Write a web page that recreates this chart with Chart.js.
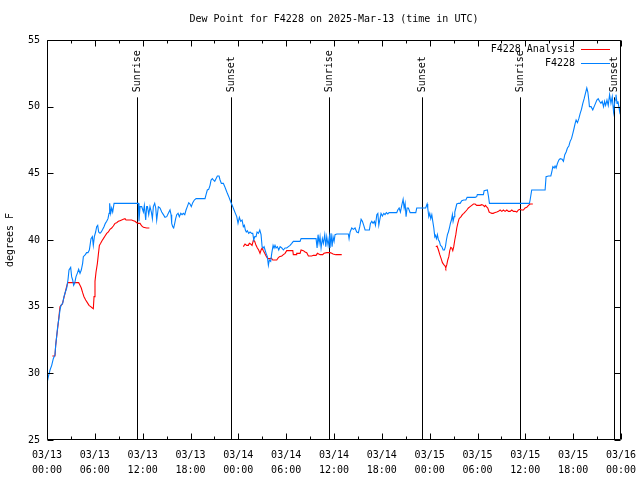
<!DOCTYPE html>
<html>
<head>
<meta charset="utf-8">
<title>Dew Point for F4228</title>
<script src="https://cdn.jsdelivr.net/npm/chart.js@4.4.1/dist/chart.umd.min.js"></script>
<style>
  html, body { margin: 0; padding: 0; background: #fff; }
  canvas { display: block; }
</style>
</head>
<body>
<canvas id="dewChart" width="640" height="480"></canvas>
<script>
// hours since 03/13 00:00 UTC
const xTickLabels = [
  ['03/13', '00:00'], ['03/13', '06:00'], ['03/13', '12:00'], ['03/13', '18:00'],
  ['03/14', '00:00'], ['03/14', '06:00'], ['03/14', '12:00'], ['03/14', '18:00'],
  ['03/15', '00:00'], ['03/15', '06:00'], ['03/15', '12:00'], ['03/15', '18:00'],
  ['03/16', '00:00']
];

// observed dew point (F4228)
const obsHours = [
  0.0, 0.17, 0.38, 0.59, 0.79, 1.0, 1.09, 1.21, 1.34, 1.5, 1.63, 1.76, 1.97, 2.13, 2.3, 2.47,
  2.63, 2.76, 2.97, 3.09, 3.22, 3.34, 3.47, 3.64, 3.8, 3.97, 4.14, 4.3, 4.47, 4.56, 4.81, 4.97,
  5.14, 5.31, 5.4, 5.52, 5.69, 5.81, 5.94, 6.1, 6.23, 6.36, 6.48, 6.65, 6.81, 6.99, 7.15, 7.32,
  7.49, 7.65, 7.78, 7.86, 7.99, 8.11, 8.24, 8.41, 11.33, 11.46, 11.54, 11.67, 11.88, 12.09, 12.21, 12.38,
  12.5, 12.6, 12.76, 12.92, 13.09, 13.22, 13.34, 13.51, 13.64, 13.76, 13.97, 14.18, 14.39, 14.6, 14.8, 15.02,
  15.22, 15.43, 15.56, 15.64, 15.77, 15.89, 16.02, 16.14, 16.27, 16.44, 16.6, 16.78, 16.94, 17.1, 17.28, 17.44,
  17.6, 17.78, 17.94, 18.1, 18.28, 18.48, 18.7, 19.82, 19.95, 20.11, 20.28, 20.45, 20.58, 20.74, 20.87, 21.04,
  21.2, 21.37, 21.58, 21.71, 21.87, 22.12, 22.3, 22.46, 22.62, 22.8, 22.96, 23.12, 23.3, 23.46, 23.63, 23.8,
  23.96, 24.13, 24.3, 24.47, 24.63, 24.76, 24.88, 25.0, 25.13, 25.3, 25.47, 25.68, 25.81, 25.94, 26.06, 26.22,
  26.35, 26.52, 26.69, 26.85, 26.98, 27.1, 27.23, 27.35, 27.48, 27.64, 27.77, 27.89, 28.06, 28.19, 28.36, 28.48,
  28.6, 28.73, 28.9, 29.07, 29.24, 29.45, 29.65, 29.86, 30.07, 30.28, 30.49, 30.7, 30.9, 31.74, 31.87, 33.75,
  33.88, 34.0, 34.13, 34.25, 34.38, 34.54, 34.67, 34.84, 34.97, 35.09, 35.26, 35.42, 35.5, 35.63, 35.76, 35.88,
  36.01, 36.13, 36.35, 37.8, 37.89, 38.02, 38.23, 38.43, 38.64, 38.85, 39.06, 39.23, 39.4, 39.56, 39.73, 39.9,
  40.44, 40.57, 40.74, 40.9, 41.07, 41.2, 41.37, 41.5, 41.62, 41.74, 41.9, 42.07, 42.25, 42.4, 42.57, 42.75,
  42.9, 43.87, 44.0, 44.17, 44.33, 44.5, 44.67, 44.8, 44.92, 45.04, 45.17, 45.33, 45.55, 46.26, 46.38, 47.5,
  47.68, 47.76, 47.89, 48.01, 48.14, 48.27, 48.39, 48.52, 48.64, 48.72, 48.85, 48.97, 49.1, 49.22, 49.35, 49.52,
  49.69, 49.85, 49.98, 50.1, 50.23, 50.35, 50.48, 50.6, 50.73, 50.85, 50.94, 51.07, 51.15, 51.28, 51.4, 51.61,
  51.82, 52.03, 52.28, 52.54, 52.7, 53.7, 53.9, 53.98, 54.74, 54.83, 55.24, 55.37, 55.5, 60.51, 60.6, 60.8,
  62.48, 62.6, 62.9, 63.2, 63.32, 63.45, 63.61, 63.73, 63.86, 64.03, 64.2, 64.37, 64.62, 64.78, 64.95, 65.12,
  65.28, 65.46, 65.62, 65.79, 65.96, 66.12, 66.25, 66.37, 66.54, 66.71, 66.88, 67.04, 67.21, 67.38, 67.54, 67.71,
  67.84, 67.96, 68.04, 68.25, 68.46, 68.63, 68.8, 68.97, 69.14, 69.3, 69.48, 69.64, 69.81, 69.94, 70.07, 70.24,
  70.4, 70.57, 70.74, 70.9, 71.07, 71.25, 71.37, 71.5, 71.62, 71.75, 71.87, 71.95
];
const obsDewpoint = [
  29.25, 29.75, 30.25, 30.6, 31.1, 31.4, 32.1, 32.75, 33.5, 34.15, 34.75, 35.1, 35.25, 35.75, 36.1, 36.4,
  37.0, 37.75, 37.95, 37.25, 37.0, 36.6, 36.75, 37.25, 37.5, 37.8, 37.5, 37.75, 38.25, 38.75, 38.9, 39.05,
  39.05, 39.25, 39.6, 40.1, 40.25, 39.6, 40.25, 40.6, 41.0, 41.1, 40.6, 40.5, 40.6, 40.8, 41.0, 41.25,
  41.4, 41.6, 42.0, 42.75, 42.0, 42.4, 42.1, 42.75, 42.75, 42.75, 41.4, 42.5, 42.5, 42.1, 42.6, 41.5,
  42.5, 42.5, 41.9, 42.5, 42.1, 41.6, 42.5, 42.75, 42.4, 41.5, 42.5, 42.4, 42.1, 41.9, 41.7, 41.75,
  42.0, 42.25, 41.9, 41.25, 41.0, 40.9, 41.25, 41.6, 41.9, 42.0, 41.75, 42.0, 41.9, 42.0, 41.9, 42.25,
  42.5, 42.8, 42.7, 42.5, 42.8, 43.0, 43.1, 43.1, 43.4, 43.75, 43.8, 44.1, 44.5, 44.6, 44.5, 44.4,
  44.6, 44.8, 44.8, 44.5, 44.25, 44.25, 44.0, 43.75, 43.5, 43.25, 43.0, 42.75, 42.5, 42.25, 42.0, 41.75,
  41.25, 41.7, 41.4, 41.5, 41.0, 41.1, 40.75, 40.6, 40.7, 40.5, 40.6, 40.5, 40.5, 40.0, 40.25, 40.25,
  40.6, 40.5, 40.75, 40.4, 39.5, 39.4, 39.5, 39.25, 39.0, 38.75, 38.1, 38.5, 38.4, 39.0, 39.6, 39.4,
  39.6, 39.4, 39.5, 39.25, 39.5, 39.4, 39.25, 39.4, 39.4, 39.5, 39.6, 39.75, 39.9, 39.9, 40.1, 40.1,
  39.4, 40.4, 39.75, 40.25, 39.4, 40.1, 39.75, 40.4, 39.5, 40.25, 39.6, 40.25, 39.4, 40.5, 39.5, 40.25,
  39.9, 40.4, 40.45, 40.45, 40.1, 40.6, 40.9, 40.8, 40.9, 40.6, 40.55, 41.0, 41.55, 41.4, 41.1, 40.75,
  40.75, 41.25, 41.4, 41.25, 41.4, 41.1, 41.9, 42.0, 41.1, 41.5, 42.0, 41.8, 42.0, 41.9, 42.05, 41.95,
  42.05, 42.05, 42.25, 42.4, 42.1, 42.6, 43.05, 42.4, 42.75, 41.75, 42.4, 42.4, 42.05, 42.05, 42.4, 42.4,
  42.7, 42.4, 41.75, 42.0, 41.6, 41.9, 41.4, 40.9, 40.25, 40.35, 40.1, 40.4, 40.0, 39.9, 39.6, 39.5,
  39.25, 39.25, 39.5, 40.0, 40.4, 40.6, 40.9, 41.25, 41.5, 41.9, 41.4, 41.75, 42.1, 42.4, 42.7, 42.75,
  42.75, 42.95, 43.0, 43.0, 43.2, 43.2, 43.25, 43.4, 43.4, 43.7, 43.75, 43.3, 42.75, 42.75, 43.0, 43.75,
  43.75, 44.75, 44.8, 44.8, 45.1, 45.5, 45.4, 45.55, 45.4, 45.75, 46.0, 46.1, 46.05, 45.9, 46.4, 46.6,
  46.9, 47.05, 47.4, 47.6, 48.0, 48.4, 48.75, 49.0, 48.8, 49.1, 49.5, 49.8, 50.25, 50.6, 51.0, 51.4,
  51.1, 50.5, 50.0, 50.0, 49.75, 50.0, 50.25, 50.5, 50.6, 50.4, 50.25, 50.4, 50.0, 50.4, 50.1, 50.5,
  50.1, 50.9, 50.25, 50.75, 49.6, 50.5, 50.9, 50.25, 50.4, 49.9, 49.5, 49.4
];

// analysis dew point (F4228 Analysis), null = gap
const anaHours = [
  0.67, 1.0, 1.09, 1.21, 1.34, 1.5, 1.63, 1.76, 1.93, 2.09, 2.26, 2.42, 2.6, 3.97, 4.14, 4.3,
  4.47, 4.64, 4.85, 5.06, 5.27, 5.48, 5.69, 5.81, 5.9, 6.02, 6.15, 6.32, 6.44, 6.57, 6.73, 6.9,
  7.07, 7.28, 7.49, 7.7, 7.9, 8.11, 8.32, 8.53, 8.74, 8.95, 9.16, 9.37, 9.57, 9.79, 9.91, 10.62,
  10.83, 11.04, 11.25, 11.46, 11.67, 11.88, 12.09, 12.5, 12.84, 18.0,
  24.63, 24.84, 25.05, 25.26, 25.38, 25.55, 25.72, 25.89, 26.05, 26.22, 26.39, 26.55, 26.72, 26.85, 26.98, 27.14,
  27.31, 27.48, 27.64, 27.81, 27.98, 28.14, 28.31, 28.82, 28.98, 29.15, 29.45, 29.65, 29.86, 30.07, 30.83, 30.9,
  31.24, 31.32, 31.74, 31.87, 32.16, 32.37, 32.58, 32.79, 33.21, 33.41, 33.75, 33.92, 34.25, 34.58, 34.75, 35.09,
  35.5, 35.72, 35.88, 36.22, 36.97, 42.0,
  48.77, 48.93, 49.1, 49.27, 49.44, 49.6, 49.77, 49.94, 50.02, 50.15, 50.27, 50.4, 50.52, 50.65, 50.77, 50.9,
  51.02, 51.15, 51.28, 51.4, 51.53, 51.69, 51.94, 52.1, 52.28, 52.45, 52.66, 52.86, 53.07, 53.28, 53.49, 53.7,
  53.9, 54.33, 54.54, 54.75, 54.87, 55.0, 55.12, 55.29, 55.46, 55.62, 55.8, 55.97, 56.13, 56.42, 56.63, 56.84,
  57.05, 57.25, 57.46, 57.68, 57.88, 58.09, 58.3, 58.51, 58.72, 58.93, 59.13, 59.34, 59.55, 59.76, 59.97, 60.18,
  60.39, 60.6, 60.94
];
const anaDewpoint = [
  31.3, 31.3, 32.1, 32.75, 33.4, 34.25, 35.0, 35.1, 35.2, 35.6, 36.0, 36.4, 36.8, 36.8, 36.6, 36.4,
  36.05, 35.75, 35.5, 35.3, 35.1, 35.0, 34.9, 34.85, 35.75, 36.9, 37.6, 38.25, 38.9, 39.6, 39.75, 39.95,
  40.1, 40.3, 40.5, 40.6, 40.8, 40.9, 41.05, 41.25, 41.3, 41.4, 41.45, 41.5, 41.55, 41.6, 41.5, 41.5,
  41.45, 41.4, 41.3, 41.25, 41.25, 41.05, 40.95, 40.9, 40.9, null,
  39.5, 39.7, 39.6, 39.6, 39.75, 39.7, 39.6, 40.0, 39.9, 39.6, 39.4, 39.25, 39.0, 39.25, 39.4, 39.2,
  39.0, 38.8, 38.65, 38.6, 38.6, 38.65, 38.5, 38.5, 38.65, 38.75, 38.8, 38.9, 39.0, 39.2, 39.2, 38.9,
  38.9, 39.0, 39.0, 39.25, 39.2, 39.1, 39.05, 38.8, 38.8, 38.85, 38.85, 39.0, 38.9, 38.9, 39.0, 39.05,
  39.05, 39.0, 38.95, 38.9, 38.9, null,
  39.5, 39.55, 39.25, 38.9, 38.6, 38.3, 38.15, 38.05, 37.9, 38.15, 38.5, 38.75, 39.2, 39.45, 39.4, 39.2,
  39.5, 40.0, 40.4, 40.9, 41.25, 41.6, 41.75, 41.9, 42.0, 42.1, 42.25, 42.4, 42.5, 42.6, 42.7, 42.7,
  42.6, 42.6, 42.65, 42.6, 42.5, 42.6, 42.5, 42.4, 42.1, 42.05, 42.0, 42.0, 42.05, 42.1, 42.15, 42.25,
  42.15, 42.25, 42.15, 42.25, 42.15, 42.15, 42.25, 42.15, 42.15, 42.1, 42.25, 42.3, 42.25, 42.25, 42.4, 42.45,
  42.6, 42.7, 42.7
];

// sun events (hours since 03/13 00:00 UTC)
const sunHours = [11.35, 23.12, 35.32, 47.1, 59.38, 71.18];
const sunLabels = ['Sunrise', 'Sunset', 'Sunrise', 'Sunset', 'Sunrise', 'Sunset'];

const FONT = '10px "DejaVu Sans Mono", monospace';

function toPoints(xs, ys) {
  return xs.map((x, i) => ({ x: x, y: ys[i] }));
}

// gnuplot-like frame, ticks, sun lines, legend and titles
const gnuplotLook = {
  id: 'gnuplotLook',
  beforeDraw(chart) {
    const c = chart.ctx;
    c.save();
    c.fillStyle = '#fff';
    c.fillRect(0, 0, chart.width, chart.height);
    c.restore();
  },
  beforeDatasetsDraw(chart) {
    const c = chart.ctx;
    const xs = chart.scales.x, ys = chart.scales.y;
    const top = ys.getPixelForValue(50.7);
    const bottom = chart.chartArea.bottom;
    c.save();
    c.strokeStyle = '#000';
    c.lineWidth = 1;
    c.fillStyle = '#000';
    c.font = FONT;
    sunHours.forEach((h, i) => {
      const px = Math.round(xs.getPixelForValue(h)) + 0.5;
      c.beginPath();
      c.moveTo(px, top);
      c.lineTo(px, bottom);
      c.stroke();
      c.save();
      c.translate(px, top - 5);
      c.rotate(-Math.PI / 2);
      c.textAlign = 'left';
      c.textBaseline = 'middle';
      c.fillText(sunLabels[i], 0, 0);
      c.restore();
    });
    c.restore();
  },
  afterDatasetsDraw(chart) {
    const c = chart.ctx;
    const a = chart.chartArea;
    const xs = chart.scales.x, ys = chart.scales.y;
    const L = Math.round(a.left) + 0.5, R = Math.round(a.right) - 0.5;
    const T = Math.round(a.top) + 0.5, B = Math.round(a.bottom) - 0.5;
    c.save();
    c.strokeStyle = '#000';
    c.lineWidth = 1;
    c.beginPath();
    c.rect(L, T, R - L, B - T);
    // y ticks, both sides
    for (let v = 25; v <= 55; v += 5) {
      const py = Math.round(ys.getPixelForValue(v)) + 0.5;
      c.moveTo(L, py); c.lineTo(L + 6, py);
      c.moveTo(R, py); c.lineTo(R - 6, py);
    }
    // x ticks, major every 6 h, minor every 3 h, top and bottom
    for (let h = 0; h <= 72; h += 3) {
      const px = Math.round(xs.getPixelForValue(h)) + 0.5;
      const len = h % 6 === 0 ? 6 : 3;
      c.moveTo(px, B); c.lineTo(px, B - len);
      c.moveTo(px, T); c.lineTo(px, T + len);
    }
    c.stroke();

    // legend, top right inside the frame
    c.font = FONT;
    c.fillStyle = '#000';
    c.textAlign = 'right';
    c.textBaseline = 'middle';
    const legendItems = [chart.data.datasets[1], chart.data.datasets[0]];
    legendItems.forEach((ds, i) => {
      const ly = 49 + i * 14;
      c.fillText(ds.label, 575, ly);
      c.strokeStyle = ds.borderColor;
      c.beginPath();
      c.moveTo(581, ly + 0.5);
      c.lineTo(610, ly + 0.5);
      c.stroke();
    });

    // title
    c.textAlign = 'center';
    c.fillText('Dew Point for F4228 on 2025-Mar-13 (time in UTC)', (a.left + a.right) / 2, 19);

    // y axis title
    c.translate(10, (a.top + a.bottom) / 2);
    c.rotate(-Math.PI / 2);
    c.fillText('degrees F', 0, 0);
    c.restore();
  }
};

const ctx = document.getElementById('dewChart').getContext('2d');
const dewChart = new Chart(ctx, {
  type: 'line',
  data: {
    datasets: [
      {
        label: 'F4228',
        data: toPoints(obsHours, obsDewpoint),
        borderColor: 'rgb(0,128,255)',
        borderWidth: 1.1,
        pointRadius: 0,
        tension: 0,
        fill: false,
        order: 1
      },
      {
        label: 'F4228 Analysis',
        data: toPoints(anaHours, anaDewpoint),
        borderColor: 'rgb(255,0,0)',
        borderWidth: 1.1,
        pointRadius: 0,
        tension: 0,
        fill: false,
        spanGaps: false,
        order: 2
      }
    ]
  },
  options: {
    responsive: false,
    animation: false,
    devicePixelRatio: 1,
    layout: { padding: { top: 40, right: 19, left: 0, bottom: 0 } },
    plugins: {
      legend: { display: false },
      tooltip: { enabled: false },
      title: { display: false }
    },
    scales: {
      x: {
        type: 'linear',
        min: 0,
        max: 72,
        grid: { display: false, drawTicks: false },
        border: { display: false },
        ticks: {
          stepSize: 6,
          autoSkip: false,
          maxRotation: 0,
          minRotation: 0,
          padding: 8,
          color: '#000',
          font: { family: '"DejaVu Sans Mono", monospace', size: 10, lineHeight: 1.5 },
          callback: (value) => xTickLabels[Math.round(value / 6)]
        },
        afterFit: (scale) => {
          scale.height = 40;
          scale.paddingLeft = 0;
          scale.paddingRight = 0;
        }
      },
      y: {
        min: 25,
        max: 55,
        grid: { display: false, drawTicks: false },
        border: { display: false },
        ticks: {
          stepSize: 5,
          padding: 7,
          color: '#000',
          font: { family: '"DejaVu Sans Mono", monospace', size: 10 }
        },
        afterFit: (scale) => { scale.width = 47; }
      }
    }
  },
  plugins: [gnuplotLook]
});
</script>
</body>
</html>
